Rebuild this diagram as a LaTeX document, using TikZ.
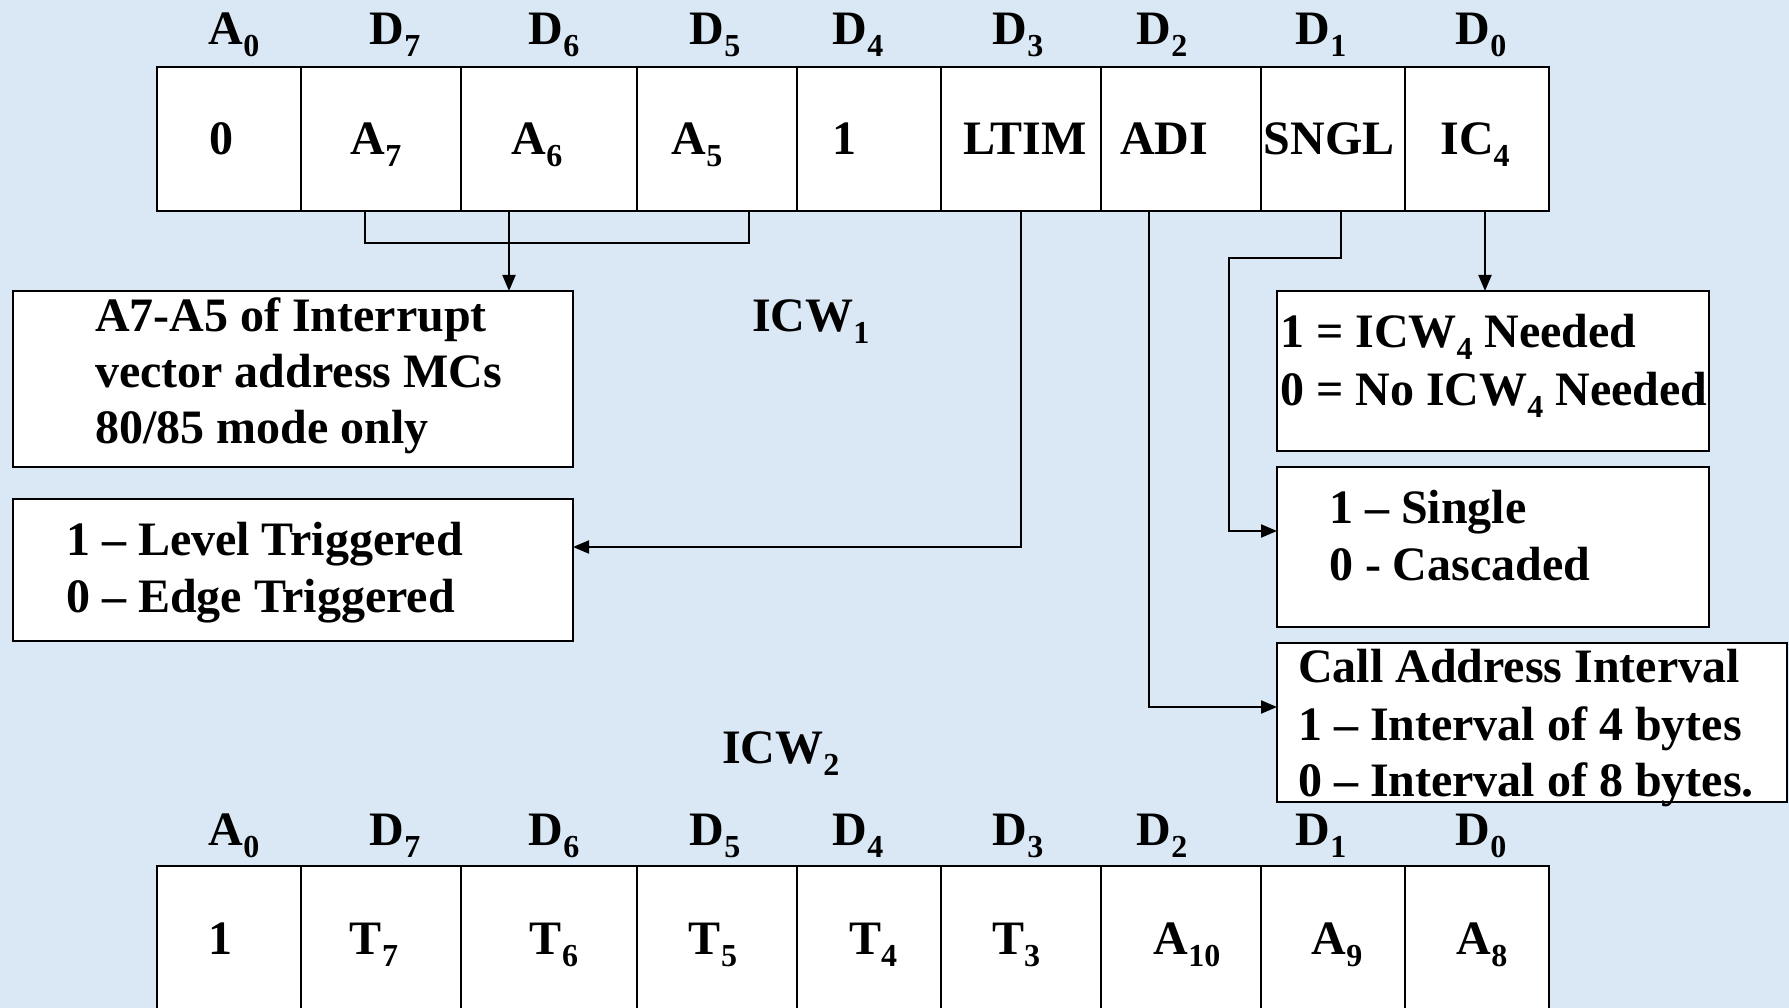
\documentclass[tikz,border=0pt]{standalone}
\usepackage{fontspec}
\setmainfont{Liberation Serif}
\usetikzlibrary{arrows.meta}
\definecolor{bg}{RGB}{218,231,245}
\newcommand{\sbs}[1]{\raisebox{-12pt}{\fontsize{32}{32}\selectfont #1}}
\begin{document}
\begin{tikzpicture}[x=1pt,y=-1pt,
  txt/.style={font=\fontsize{48}{56}\selectfont\bfseries, inner sep=0pt, outer sep=0pt},
  cellbox/.style={draw=black, line width=2.5pt, fill=white, inner sep=0pt, outer sep=0pt, anchor=north west},
  infobox/.style={draw=black, line width=2.5pt, fill=white, inner sep=0pt, outer sep=0pt, anchor=north west},
  conn/.style={line width=2pt},
  arr/.style={conn, -{Triangle[length=16pt,width=13pt]}}]
\fill[bg] (0,0) rectangle (1789,1008);
\useasboundingbox (0,0) rectangle (1789,1008);
\clip (0,0) rectangle (1789,1008);

% ---------- ICW1 register ----------
\foreach \a/\b/\n in {157/301/0,301/461/1,461/637/2,637/797/3,797/941/4,941/1101/5,1101/1261/6,1261/1405/7,1405/1549/8}{
  \pgfmathsetmacro\w{\b-\a}
  \node[cellbox, minimum width=\w pt, minimum height=144pt] (c\n) at (\a,67) {};
}
% ---------- ICW2 register ----------
\foreach \a/\b/\n in {157/301/0,301/461/1,461/637/2,637/797/3,797/941/4,941/1101/5,1101/1261/6,1261/1405/7,1405/1549/8}{
  \pgfmathsetmacro\w{\b-\a}
  \node[cellbox, minimum width=\w pt, minimum height=200pt] (d\n) at (\a,866) {};
}

% bit labels
\foreach \x/\t/\n in {234/A\sbs{0}/0,395/D\sbs{7}/1,554/D\sbs{6}/2,715/D\sbs{5}/3,858/D\sbs{4}/4,1018/D\sbs{3}/5,1162/D\sbs{2}/6,1321/D\sbs{1}/7,1481/D\sbs{0}/8}{
  \node[txt, anchor=base] (bt\n) at (\x,45) {\t};
  \node[txt, anchor=base] (bb\n) at (\x,845) {\t};
}

% ICW1 contents
\node[txt, anchor=base] (t0) at (221,155) {0};
\node[txt, anchor=base] (t1) at (376,155) {A\sbs{7}};
\node[txt, anchor=base] (t2) at (537,155) {A\sbs{6}};
\node[txt, anchor=base] (t3) at (697,155) {A\sbs{5}};
\node[txt, anchor=base] (t4) at (844,155) {1};
\node[txt, anchor=base] (t5) at (1025,155) {LTIM};
\node[txt, anchor=base] (t6) at (1164,155) {ADI};
\node[txt, anchor=base] (t7) at (1329,155) {SNGL};
\node[txt, anchor=base] (t8) at (1475,155) {IC\sbs{4}};

% ICW2 contents
\node[txt, anchor=base] (u0) at (220,954) {1};
\node[txt, anchor=base] (u1) at (374,954) {T\sbs{7}};
\node[txt, anchor=base] (u2) at (554,954) {T\sbs{6}};
\node[txt, anchor=base] (u3) at (713,954) {T\sbs{5}};
\node[txt, anchor=base] (u4) at (873,954) {T\sbs{4}};
\node[txt, anchor=base] (u5) at (1016,954) {T\sbs{3}};
\node[txt, anchor=base] (u6) at (1187,954) {A\sbs{10}};
\node[txt, anchor=base] (u7) at (1337,954) {A\sbs{9}};
\node[txt, anchor=base] (u8) at (1482,954) {A\sbs{8}};

% titles
\node[txt, anchor=base west] (icw1) at (752,332) {ICW\sbs{1}};
\node[txt, anchor=base west] (icw2) at (722,763) {ICW\sbs{2}};

% ---------- description boxes ----------
\node[infobox, minimum width=560pt, minimum height=176pt] (box1) at (13,291) {};
\node[infobox, minimum width=560pt, minimum height=142pt] (box2) at (13,499) {};
\node[infobox, minimum width=432pt, minimum height=160pt] (boxA) at (1277,291) {};
\node[infobox, minimum width=432pt, minimum height=160pt] (boxB) at (1277,467) {};
\node[infobox, minimum width=510pt, minimum height=159pt] (boxC) at (1277,643) {};

\node[txt, anchor=base west] (l11) at (95,332) {A7-A5 of Interrupt};
\node[txt, anchor=base west] (l12) at (95,387) {vector address MCs};
\node[txt, anchor=base west] (l13) at (95,443) {80/85 mode only};

\node[txt, anchor=base west] (l21) at (66,555) {1 -- Level Triggered};
\node[txt, anchor=base west] (l22) at (66,612) {0 -- Edge Triggered};

\node[txt, anchor=base west] (lA1) at (1280,348) {1 = ICW\sbs{4} Needed};
\node[txt, anchor=base west] (lA2) at (1280,405) {0 = No ICW\sbs{4} Needed};

\node[txt, anchor=base west] (lB1) at (1329,523) {1 -- Single};
\node[txt, anchor=base west] (lB2) at (1329,580) {0 - Cascaded};

\node[txt, anchor=base west] (lC1) at (1298,682) {Call Address Interval};
\node[txt, anchor=base west] (lC2) at (1298,740) {1 -- Interval of 4 bytes};
\node[txt, anchor=base west] (lC3) at (1298,796) {0 -- Interval of 8 bytes.};

% ---------- connectors ----------
\coordinate (brL) at (365,243);
\coordinate (brR) at (749,243);
\draw[conn] (brL |- c1.south) -- (brL) -- (brR) -- (brR |- c3.south);
\draw[arr] (509,0 |- c2.south) -- (509,0 |- box1.north);

\draw[arr] (c5.south) |- (box2.east |- 0,547);
\draw[arr] (1149,0 |- c6.south) |- (boxC.west |- 0,707);
\coordinate (sn) at (1229,258);
\draw[arr] (1341,0 |- c7.south) |- (sn) |- (boxB.west |- 0,531);
\draw[arr] (1485,0 |- c8.south) -- (1485,0 |- boxA.north);
\end{tikzpicture}
\end{document}
